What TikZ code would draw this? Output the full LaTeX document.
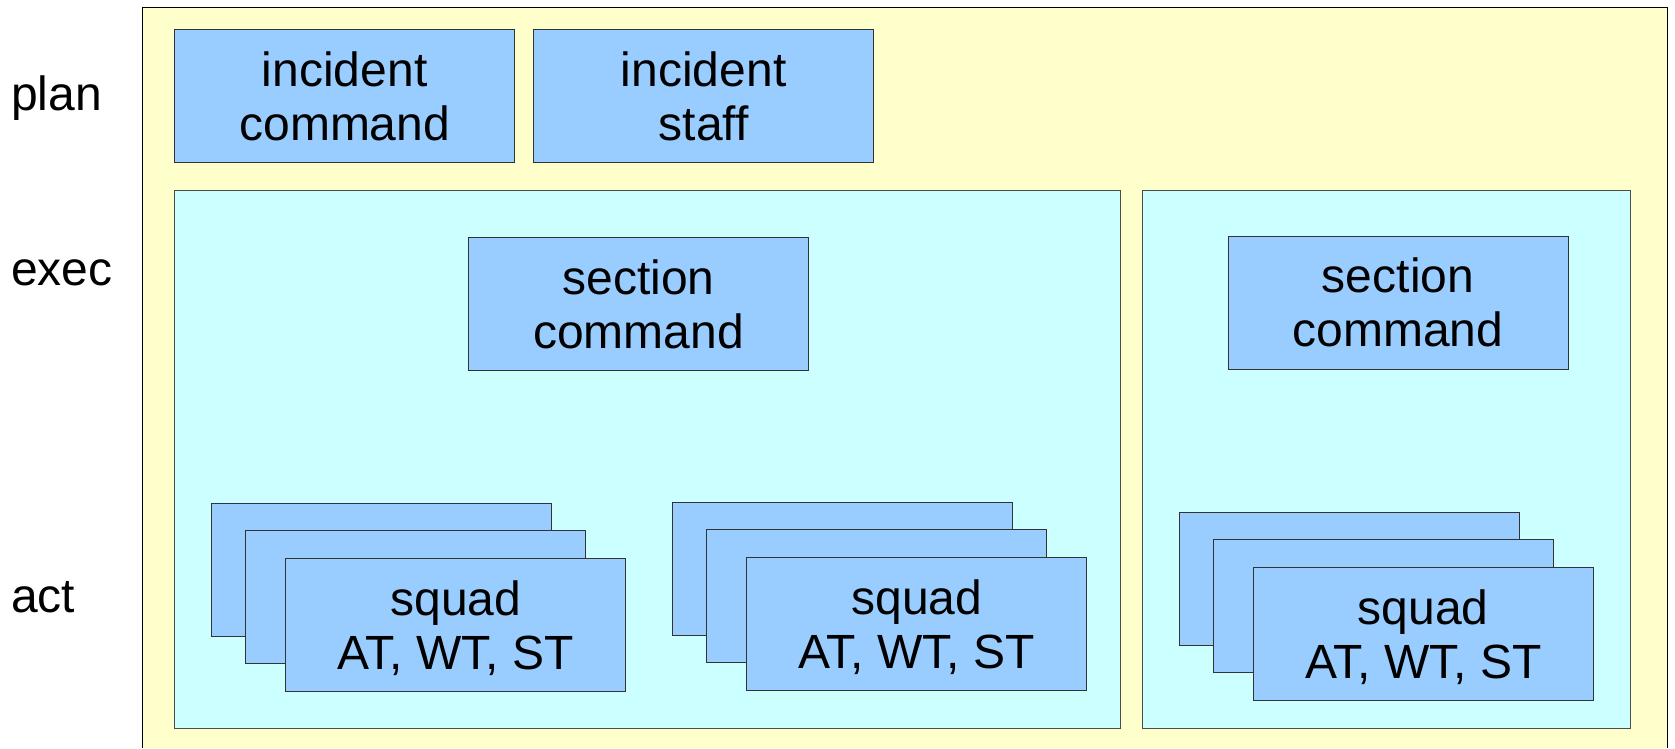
\documentclass[tikz,border=0pt]{standalone}
\usepackage{fontspec}
\setmainfont{Liberation Sans}
\definecolor{paneyellow}{HTML}{FFFFCC}
\definecolor{panecyan}{HTML}{CCFFFF}
\definecolor{unitblue}{HTML}{99CCFF}

\begin{document}
\begin{tikzpicture}[x=1pt,y=-1pt,
  every node/.style={font=\fontsize{48}{54}\selectfont},
  unit/.style={draw=black!80, line width=1pt, fill=unitblue,
    minimum width=340pt, minimum height=132.7pt, align=center, inner sep=0pt},
  pane/.style={draw=black!70, line width=1pt, fill=panecyan, inner sep=0pt},
  level/.style={anchor=base west, inner sep=0pt}]
\useasboundingbox (0,0) rectangle (1675,748);

% outer frame (runs past the lower edge)
\fill[paneyellow] (142.7,7.3) rectangle (1667.7,748);
\draw[black, line width=1pt] (142.7,748) -- (142.7,7.3) -- (1667.7,7.3) -- (1667.7,748);

% level labels
\node[level] (lplan) at (11,110) {plan};
\node[level] (lexec) at (11,285) {exec};
\node[level] (lact)  at (11,612.7) {act};

% planning level
\node[unit] (icmd)  at (344.7,96.3) {incident\\command};
\node[unit] (istaff) at (703.7,96.3) {incident\\staff};

% sections
\node[pane, minimum width=945.6pt, minimum height=537.6pt] (secA) at (647.5,459.5) {};
\node[pane, minimum width=487.3pt, minimum height=537.6pt] (secB) at (1386.35,459.5) {};

\node[unit, minimum height=133pt] (scmdA) at (638.5,304) {section\\command};
\node[unit, minimum height=133pt] (scmdB) at (1398,302.5) {section\\command};

% squads, each a stack of three cards
\newcommand\squadtext{\rule{0pt}{41pt}squad\\AT, WT, ST}
\node[unit] (sqA1) at (381.7,570.3) {};
\node[unit] (sqA2) at (415.7,597) {};
\node[unit] (sqA3) at (455.7,625) {\squadtext};

\node[unit] (sqB1) at (842.7,569) {};
\node[unit] (sqB2) at (876.5,595.7) {};
\node[unit] (sqB3) at (916.7,623.8) {\squadtext};

\node[unit] (sqC1) at (1349.2,579.2) {};
\node[unit] (sqC2) at (1383.3,605.8) {};
\node[unit] (sqC3) at (1423.2,634) {\squadtext};
\end{tikzpicture}
\end{document}
